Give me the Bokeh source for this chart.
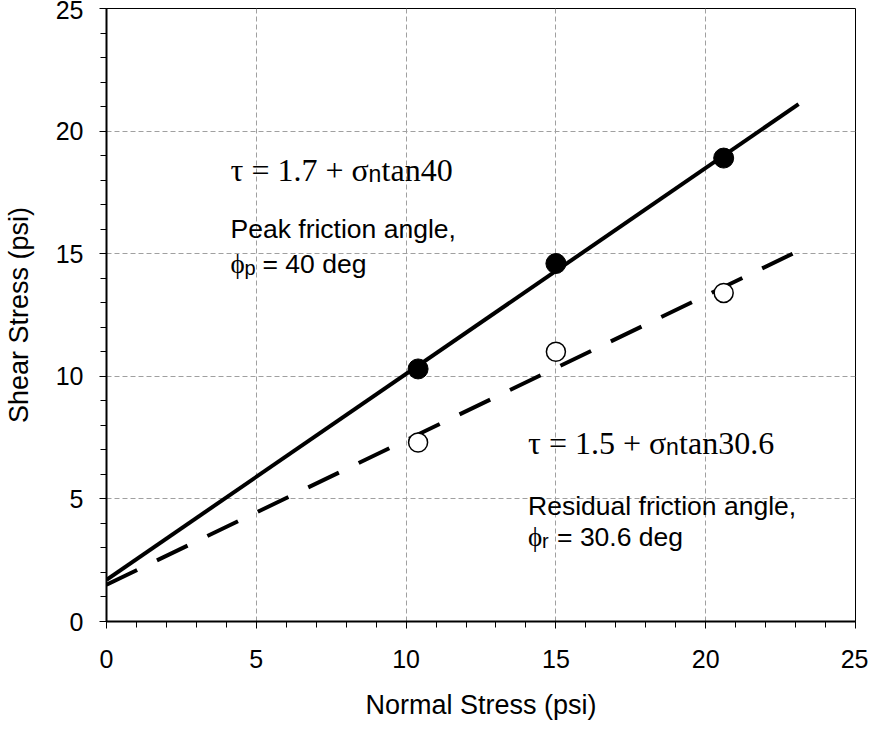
from bokeh.plotting import figure
from bokeh.models import Label, FixedTicker, Range1d
from bokeh.embed import file_html
from bokeh.resources import INLINE

# ---- data ----
normal_stress = [10.4, 15.0, 20.6]
peak_shear = [10.3, 14.6, 18.9]
residual_shear = [7.3, 11.0, 13.4]

peak_fit_x = [0.0, 23.1]
peak_fit_y = [1.7, 21.1]
residual_fit_x = [0.0, 22.9]
residual_fit_y = [1.5, 15.0]

major_ticks = [0, 5, 10, 15, 20, 25]
grid_ticks = [5, 10, 15, 20]
minor_ticks = list(range(0, 26))

SANS = "Liberation Sans"
SERIF = "Liberation Serif"

p = figure(width=868, height=726,
           x_range=Range1d(0, 25), y_range=Range1d(0, 25),
           output_backend="svg", toolbar_location=None,
           min_border_left=100, min_border_right=13,
           min_border_top=8, min_border_bottom=105,
           background_fill_color="white", border_fill_color="white")

p.outline_line_color = "black"
p.outline_line_width = 1
p.outline_line_alpha = 1.0

for ax in (p.xaxis[0], p.yaxis[0]):
    ax.ticker = FixedTicker(ticks=major_ticks, minor_ticks=minor_ticks)
    ax.axis_line_width = 2
    ax.axis_line_color = "black"
    ax.major_tick_in = 0
    ax.major_tick_out = 7
    ax.minor_tick_in = 0
    ax.minor_tick_out = 6
    ax.major_tick_line_color = "black"
    ax.minor_tick_line_color = "black"
    ax.major_tick_line_width = 1
    ax.minor_tick_line_width = 1
    ax.major_label_text_font = SANS
    ax.major_label_text_font_size = "25px"
    ax.major_label_text_color = "black"
    ax.axis_label_text_font = SANS
    ax.axis_label_text_font_size = "27px"
    ax.axis_label_text_font_style = "normal"
    ax.axis_label_text_color = "black"

p.xaxis.axis_label = "Normal Stress (psi)"
p.yaxis.axis_label = "Shear Stress (psi)"
p.xaxis.major_label_standoff = 21
p.yaxis.major_label_standoff = 16
p.xaxis.axis_label_standoff = 19
p.yaxis.axis_label_standoff = 19

for g in (p.xgrid[0], p.ygrid[0]):
    g.ticker = FixedTicker(ticks=grid_ticks)
    g.grid_line_color = "#a0a0a0"
    g.grid_line_dash = "5 3"
    g.grid_line_width = 1

# fit lines
p.line(peak_fit_x, peak_fit_y, line_color="black", line_width=4)
p.line(residual_fit_x, residual_fit_y, line_color="black", line_width=4,
       line_dash="34 22")

# data points
p.scatter(normal_stress, peak_shear, marker="circle", size=20,
          fill_color="black", line_color="black", line_width=1)
p.scatter(normal_stress, residual_shear, marker="circle", size=19,
          fill_color="white", line_color="black", line_width=1.5)


def add(text, x, y, dx=0, dy=0, font=SANS, size="26.5px"):
    p.add_layout(Label(x=x, y=y, x_offset=dx, y_offset=dy, text=text,
                       text_font=font, text_font_size=size,
                       text_color="black", text_baseline="alphabetic",
                       text_align="left"))


# peak annotation
ax1, ay1 = 4.14, 18.43
add("\u03c4 = 1.7 + \u03c3", ax1, ay1, font=SERIF, size="32px")
add("n", ax1, ay1, dx=138, dy=-4, font=SANS, size="23px")
add("tan40", ax1, ay1, dx=151, font=SERIF, size="32px")
add("Peak friction angle,", ax1, 15.99)
add("\u03d5", ax1, 14.56, font=SERIF, size="27px")
add("p", ax1, 14.56, dx=14, dy=-4, size="20px")
add("= 40 deg", ax1, 14.56, dx=32)

# residual annotation
ax2, ay2 = 14.07, 7.30
add("\u03c4 = 1.5 + \u03c3", ax2, ay2, font=SERIF, size="32px")
add("n", ax2, ay2, dx=138, dy=-4, font=SANS, size="23px")
add("tan30.6", ax2, ay2, dx=151, font=SERIF, size="32px")
add("Residual friction angle,", ax2, 4.73)
add("\u03d5", ax2, 3.43, font=SERIF, size="27px")
add("r", ax2, 3.43, dx=14, dy=-4, size="20px")
add("= 30.6 deg", ax2, 3.43, dx=29)

open("out.html", "w").write(file_html(p, INLINE))
